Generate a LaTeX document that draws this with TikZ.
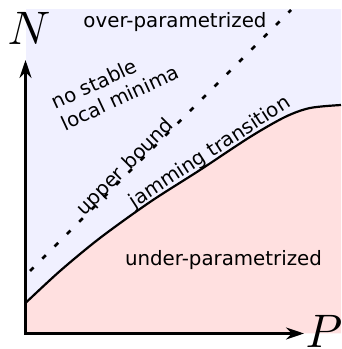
\documentclass[tikz,border=0pt]{standalone}
\usepackage{fontspec}
\setmainfont{DejaVu Sans}
\usepackage{tikz}
\usetikzlibrary{arrows.meta,positioning,calc}

\definecolor{overfill}{RGB}{240,240,255}
\definecolor{underfill}{RGB}{255,224,224}

\begin{document}
\begin{tikzpicture}[
  x=1pt, y=1pt,
  lbl/.style={font=\fontsize{19.8}{23.5}\selectfont, inner sep=0pt},
  axislabel/.style={font=\fontsize{10}{12}\selectfont, scale=4.7, inner sep=0pt},
  axis/.style={{Stealth[length=18pt, width=12pt, inset=6pt]}-{Stealth[length=18pt, width=12pt, inset=6pt]},
               line width=2.2pt},
  boundary/.style={line width=2.2pt},
  bound/.style={line width=2.6pt, dash pattern=on 5pt off 12.4pt}
]
  \useasboundingbox (0,0) rectangle (341,349);

  % Regions
  \fill[overfill] (25.5,15.5) rectangle (341,340);
  \fill[underfill] plot[smooth] coordinates {(25.5,46) (60,78) (100,111) (150,147)
      (200,179) (250,212) (285,232) (310,241) (341,244)}
    -- (341,15.5) -- (25.5,15.5) -- cycle;

  % Jamming transition and upper bound
  \draw[boundary] plot[smooth] coordinates {(25.5,46) (60,78) (100,111) (150,147)
      (200,179) (250,212) (285,232) (310,241) (341,244)};
  \coordinate (ubstart) at (30,78);
  \coordinate (ubend) at (291,339);
  \draw[bound] (ubstart) -- (ubend);

  % Axes
  \coordinate (origin) at (25.5,15.5);
  \coordinate (ytip) at (25.5,289);
  \coordinate (xtip) at (304,15.5);
  \draw[axis] (ytip) -- (origin) -- (xtip);
  \node[axislabel] (N) at (29,320.5) {$N$};
  \node[axislabel] (P) at (324,17.5) {$P$};

  % Labels
  \node[lbl, anchor=base] (over) at (175,321) {over-parametrized};
  \node[lbl, anchor=base] (under) at (223.5,83) {under-parametrized};
  \node[lbl, align=left, rotate=25] (nostable) at (115,262) {no stable\\local minima};
  \node[lbl, anchor=base, rotate=45] (upper) at (129.5,177.5) {upper bound};
  \node[lbl, anchor=base, rotate=33] (jam) at (213,192) {jamming transition};
\end{tikzpicture}
\end{document}
